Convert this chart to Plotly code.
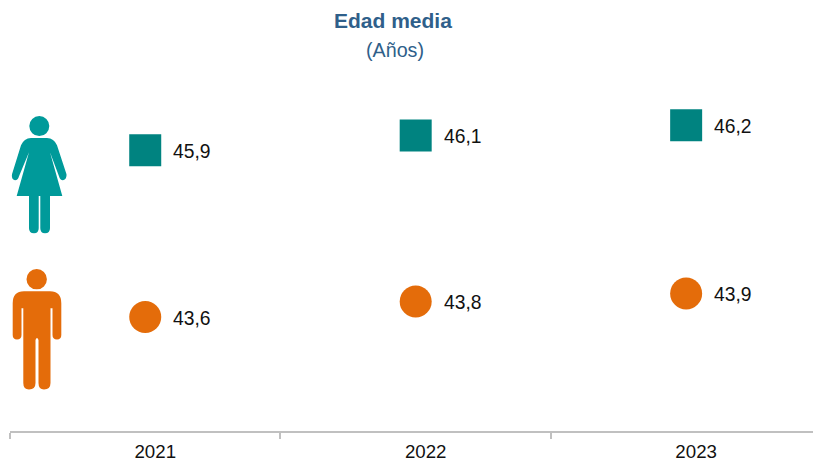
import plotly.graph_objects as go

years = ["2021", "2022", "2023"]
mujeres = [45.86, 46.06, 46.2]
hombres = [43.6, 43.81, 43.92]

W, H = 813, 464
L, R, T, B = 10, 0, 21.5, 33
PW, PH = W - L - R, H - T - B

TEAL = "#008380"
TEAL_ICON = "#009A9A"
ORANGE = "#E46C0A"
TITLE = "#2F5F8A"
FONT = "Liberation Sans, Arial, sans-serif"
INK = "#111111"


def px(x):
    return (x - L) / PW


def py(y):
    return 1 - (y - T) / PH


def path(cmds):
    out = []
    for c in cmds:
        op, *pts = c
        xy = " ".join(f"{px(pts[i]):.5f},{py(pts[i + 1]):.5f}" for i in range(0, len(pts), 2))
        out.append(f"{op} {xy}")
    return " ".join(out) + " Z"


woman = [
    ("M", 31, 137.7), ("L", 47, 137.7), ("Q", 54, 138, 57, 145), ("L", 66.5, 174),
    ("Q", 67, 179, 63, 180), ("Q", 60, 180, 59, 176), ("L", 50, 152), ("L", 62.3, 195.7),
    ("L", 50, 195.7), ("L", 50, 228), ("Q", 50, 233, 45, 233), ("Q", 40.3, 233, 40.3, 228),
    ("L", 40.3, 195.7), ("L", 38.7, 195.7), ("L", 38.7, 228), ("Q", 38.7, 233, 34, 233),
    ("Q", 29, 233, 29, 228), ("L", 29, 195.7), ("L", 16.7, 195.7), ("L", 29, 152),
    ("L", 19, 176), ("Q", 18, 180, 15, 180), ("Q", 11, 179, 12, 174), ("L", 21, 145),
    ("Q", 24, 138, 31, 137.7),
]
man = [
    ("M", 24, 291), ("L", 50, 291), ("Q", 61.3, 291, 61.3, 303), ("L", 61.3, 335),
    ("Q", 61.3, 339.5, 57, 339.5), ("Q", 52.5, 339.5, 52.5, 335), ("L", 52.5, 308), ("L", 50.5, 308),
    ("L", 50.5, 383), ("Q", 50.5, 389.5, 44, 389.5), ("Q", 38.5, 389.5, 38.5, 383),
    ("L", 38.5, 340), ("Q", 37, 336, 35.5, 340), ("L", 35.5, 383), ("Q", 35.5, 389.5, 29, 389.5),
    ("Q", 23.3, 389.5, 23.3, 383), ("L", 23.3, 308), ("L", 21.5, 308), ("L", 21.5, 335),
    ("Q", 21.5, 339.5, 17, 339.5), ("Q", 12.7, 339.5, 12.7, 335), ("L", 12.7, 303),
    ("Q", 12.7, 291, 24, 291),
]


def head(cx, cy, r, color):
    return dict(type="circle", xref="paper", yref="paper", x0=px(cx - r), x1=px(cx + r),
                y0=py(cy + r), y1=py(cy - r), fillcolor=color, line_width=0, layer="above")


shapes = [
    head(39.3, 125.7, 10, TEAL_ICON),
    dict(type="path", xref="paper", yref="paper", path=path(woman), fillcolor=TEAL_ICON, line_width=0),
    head(36.7, 279, 10.2, ORANGE),
    dict(type="path", xref="paper", yref="paper", path=path(man), fillcolor=ORANGE, line_width=0),
]

fig = go.Figure()
fig.add_trace(go.Scatter(x=years, y=mujeres, mode="markers", name="Mujeres",
                         marker=dict(symbol="square", size=32, color=TEAL), cliponaxis=False))
fig.add_trace(go.Scatter(x=years, y=hombres, mode="markers", name="Hombres",
                         marker=dict(symbol="circle", size=32, color=ORANGE), cliponaxis=False))

annotations = [
    dict(text="<b>Edad media</b>", xref="paper", yref="paper", x=px(392.5), y=py(20), showarrow=False,
         xanchor="center", yanchor="middle", font=dict(family=FONT, size=21, color=TITLE)),
    dict(text="(Años)", xref="paper", yref="paper", x=px(395), y=py(50), showarrow=False,
         xanchor="center", yanchor="middle", font=dict(family=FONT, size=19.7, color=TITLE)),
]
for series in (mujeres, hombres):
    for i, v in enumerate(series):
        annotations.append(dict(text=f"{v:.1f}".replace(".", ","), x=i, y=v, xref="x", yref="y",
                                xanchor="left", yanchor="middle", xshift=26, yshift=-1, showarrow=False,
                                font=dict(family=FONT, size=19.3, color=INK)))

fig.update_layout(
    width=W, height=H, margin=dict(l=L, r=R, t=T, b=B, pad=0),
    paper_bgcolor="white", plot_bgcolor="white", showlegend=False,
    shapes=shapes, annotations=annotations,
    xaxis=dict(type="category", categoryorder="array", categoryarray=years, range=[-0.5, 2.469],
               tickson="boundaries", ticks="outside", ticklen=6, tickcolor="#C0C0C0", tickwidth=1.5,
               showline=True, linecolor="#C0C0C0", linewidth=2, showgrid=False, zeroline=False,
               ticklabelshift=10, ticklabelstandoff=3,
               tickfont=dict(family=FONT, size=18.7, color=INK)),
    yaxis=dict(range=[42.055, 47.6], visible=False, showgrid=False, zeroline=False),
)
fig.write_html("out.html", config={"displayModeBar": False},
               post_script="document.body.style.margin='0';document.body.style.overflow='hidden';")
